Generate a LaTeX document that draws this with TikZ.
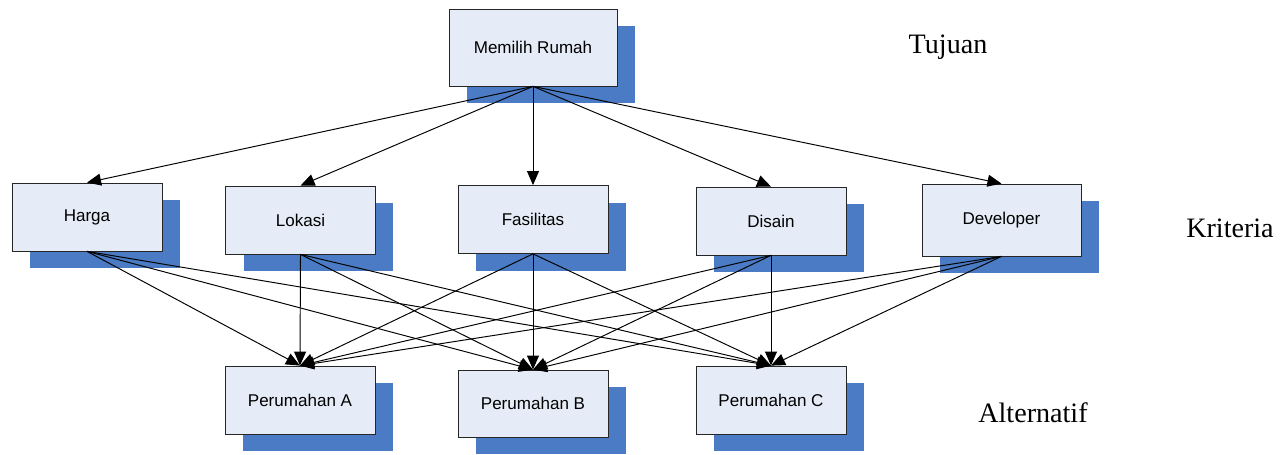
\documentclass[tikz,border=0pt]{standalone}
\usepackage{xcolor}
\usepackage{fontspec}
\setmainfont{Liberation Serif}
\newfontfamily\boxfont{Liberation Sans}
\usepackage{tikz}
\usetikzlibrary{arrows.meta,shadows}

\definecolor{boxfill}{HTML}{E6ECF7}
\definecolor{boxshadow}{HTML}{4A7BC4}

\begin{document}
\begin{tikzpicture}[x=0.02cm,y=-0.02cm,
      bx/.style={rectangle,draw=black!85,line width=0.45pt,fill=boxfill,
        minimum width=3cm,minimum height=1.36cm,inner sep=0pt,
        font=\boxfont\fontsize{9.7}{11}\selectfont,
        drop shadow={shadow xshift=0.36cm,shadow yshift=-0.35cm,
          fill=boxshadow,opacity=1}},
      lvl/.style={font=\fontsize{16}{19}\selectfont},
      ar/.style={-{Triangle[length=8pt,width=6.8pt]},line width=0.55pt}]
    \useasboundingbox (0,0) rectangle (1286,455);
    % goal
    \node[bx,minimum width=3.36cm,minimum height=1.54cm] (goal) at (533,47.5) {Memilih Rumah};
    % criteria
    \foreach \i/\cx/\cy/\txt in {1/87/217/Harga,2/300.5/220/Lokasi,3/533/219.5/Fasilitas,4/771/221/Disain} {
      \node[bx] (k\i) at (\cx,\cy) {\txt};
    }
    \node[bx,minimum width=3.18cm,minimum height=1.44cm] (k5) at (1001.5,220) {Developer};
    % alternatives
    \node[bx] (a1) at (300,400) {Perumahan A};
    \node[bx,minimum height=1.34cm] (a2) at (533,403.5) {Perumahan B};
    \node[bx] (a3) at (771,400) {Perumahan C};
    % level labels
    \node[lvl] (tujuan) at (948,47) {Tujuan};
    \node[lvl] (kriteria) at (1230,228) {Kriteria};
    \node[lvl] (alternatif) at (1033,413) {Alternatif};
    % connectors
    \foreach \i in {1,...,5} {
      \draw[ar] (goal.south) -- (k\i.north);
      \foreach \j in {1,2,3} {
        \draw[ar] (k\i.south) -- (a\j.north);
      }
    }
  \end{tikzpicture}
\end{document}
